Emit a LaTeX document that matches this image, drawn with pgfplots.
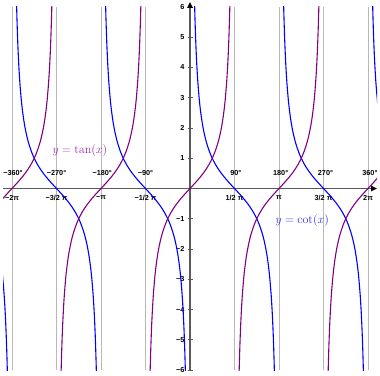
\documentclass[border=0pt]{standalone}
\usepackage{pgfplots}
\pgfplotsset{compat=1.18}
\usepackage{pgfplotstable}
\usetikzlibrary{arrows.meta}
\usepackage[no-math]{fontspec}
\setmainfont{Liberation Sans}
\definecolor{tanc}{HTML}{800080}
\definecolor{tanl}{HTML}{9A30A8}
\definecolor{cotc}{HTML}{0000FF}
\definecolor{cotl}{HTML}{3030F0}
\definecolor{axc}{HTML}{5A5A5A}
\definecolor{gridc}{HTML}{B8B8B8}

% one branch of tan: u in (-pi/2, pi/2), y = tan(u)
\pgfplotstableread{
u y
-1.446441 -8
-1.428899 -7
-1.405648 -6
-1.390941 -5.5
-1.373401 -5
-1.352127 -4.5
-1.325818 -4
-1.292497 -3.5
-1.249046 -3
-1.222024 -2.75
-1.190290 -2.5
-1.152572 -2.25
-1.107149 -2
-1.051650 -1.75
-0.982794 -1.5
-0.876058 -1.2
-0.785398 -1
-0.674741 -0.8
-0.540420 -0.6
-0.380506 -0.4
-0.197396 -0.2
0 0
0.197396 0.2
0.380506 0.4
0.540420 0.6
0.674741 0.8
0.785398 1
0.876058 1.2
0.982794 1.5
1.051650 1.75
1.107149 2
1.152572 2.25
1.190290 2.5
1.222024 2.75
1.249046 3
1.292497 3.5
1.325818 4
1.352127 4.5
1.373401 5
1.390941 5.5
1.405648 6
1.428899 7
1.446441 8
}\branch

\newcommand{\lbl}{\bfseries\fontsize{7.3}{8}\selectfont}

\begin{document}
\begin{tikzpicture}
\path[use as bounding box] (-190bp,-187.5bp) rectangle (190bp,188.5bp);
\begin{axis}[
  at={(0,0)}, anchor=origin,
  scale only axis, width=374bp, height=363bp,
  xmin=-6.6, xmax=6.6, ymin=-6, ymax=6,
  axis lines=middle,
  axis line style={axc, line width=1.6bp},
  x axis line style={-{Triangle[color=black,length=6bp,width=5.5bp]}},
  y axis line style={-{Triangle[color=black,length=6bp,width=5.5bp]}, shorten >=-5bp},
  xtick={-6.283185,-4.712389,-3.141593,-1.570796,1.570796,3.141593,4.712389,6.283185},
  xticklabels={−2π,−3/2 π,−π,−1/2 π,1/2 π,π,3/2 π,2π},
  xticklabel style={font=\lbl, inner sep=1pt, yshift=-3.5bp},
  x tick style={draw=none},
  xmajorgrids,
  major grid style={gridc, line width=0.8bp},
  ytick={-6,-5,-4,-3,-2,-1,1,2,3,4,5,6},
  yticklabels={−6,−5,−4,−3,−2,−1,1,2,3,4,5,6},
  yticklabel style={font=\lbl, inner sep=1pt, xshift=-2bp},
  y tick style={axc, line width=0.6bp},
  major tick length=5bp,
  tick align=center,
  ymajorgrids=false,
]
% cot branches (centre c, x = c - u)
\foreach \c in {-7.853982,-4.712389,-1.570796,1.570796,4.712389,7.853982}{
  \addplot[cotc, line width=1.1bp, smooth] table[x expr={\c-\thisrow{u}}, y=y] {\branch};
}
% tan branches (centre c, x = c + u)
\foreach \c in {-6.283185,-3.141593,0,3.141593,6.283185}{
  \addplot[tanc, line width=1.1bp, smooth] table[x expr={\c+\thisrow{u}}, y=y] {\branch};
}
\node[font=\lbl] at (axis cs:-6.25,0.5) {−360°};
\node[font=\lbl] at (axis cs:-4.71,0.5) {−270°};
\node[font=\lbl] at (axis cs:-3.10,0.5) {−180°};
\node[font=\lbl] at (axis cs:-1.57,0.5) {−90°};
\node[font=\lbl] at (axis cs:1.62,0.5) {90°};
\node[font=\lbl] at (axis cs:3.20,0.5) {180°};
\node[font=\lbl] at (axis cs:4.78,0.5) {270°};
\node[font=\lbl] at (axis cs:6.35,0.5) {360°};
\node[text=tanl, font=\fontsize{11.5}{13}\selectfont] at (axis cs:-3.89,1.27) {$y=\tan(x)$};
\node[text=cotl, font=\fontsize{11.5}{13}\selectfont] at (axis cs:3.96,-1.07) {$y=\cot(x)$};
\end{axis}
\end{tikzpicture}
\end{document}
